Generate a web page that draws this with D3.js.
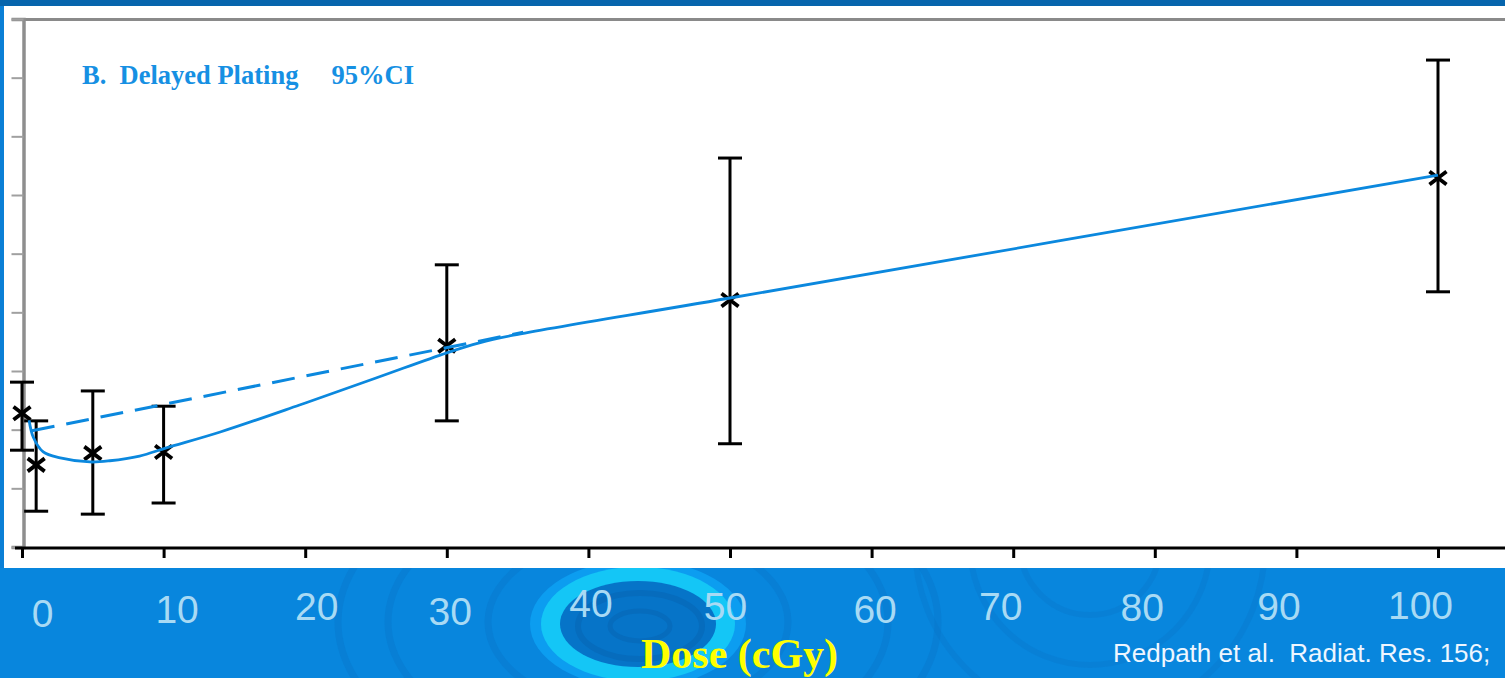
<!DOCTYPE html>
<html>
<head>
<meta charset="utf-8">
<script src="https://cdn.jsdelivr.net/npm/d3@7"></script>
<style>
  html, body { margin: 0; padding: 0; background: #0886dd; overflow: hidden; }
  svg { display: block; }
</style>
</head>
<body>
<svg id="chart" width="1505" height="678"></svg>
<script>
// Neoplastic transformation vs. dose, delayed plating, with 95% confidence intervals
const doses  = [0, 1, 5, 10, 30, 50, 100];
const means  = [2.28, 1.40, 1.60, 1.62, 3.43, 4.21, 6.29];
const ciLow  = [1.65, 0.61, 0.56, 0.75, 2.15, 1.76, 4.35];
const ciHigh = [2.81, 2.15, 2.66, 2.40, 4.81, 6.63, 8.30];

// Fitted dose-response curve (solid)
const fitDose  = [0.5, 0.8, 1.5, 2.7, 4.8, 6.2, 8.3, 10.2, 14, 19.6, 25.0, 30.0, 32.3, 34.7, 49.9, 100];
const fitValue = [2.16, 1.87, 1.62, 1.52, 1.45, 1.47, 1.55, 1.69, 1.96, 2.42, 2.88, 3.31, 3.48, 3.61, 4.24, 6.34];

// Linear extrapolation of the low-dose region (dashed)
const linDose  = [0.7, 35.4];
const linValue = [1.98, 3.66];

const xTickValues = [0, 10, 20, 30, 40, 50, 60, 70, 80, 90, 100];
const yTickValues = [0, 1, 2, 3, 4, 5, 6, 7, 8, 9];

// Hand-placed label offsets (dx, baseline) of the slide's dose labels
const labelShift = [[20, 627], [13, 623], [11, 620], [3, 625], [2, 617], [-5, 620],
                    [3, 623], [-13, 620], [-13, 621], [-18, 620], [-18, 619]];

const svg = d3.select("#chart");
const W = 1505, H = 678;

const x = d3.scaleLinear().domain([0, 100]).range([22, 1438]);
const y = d3.scaleLinear().domain([0, 9]).range([547, 19]);

// ---- slide background -------------------------------------------------
svg.append("rect").attr("width", W).attr("height", H).attr("fill", "#0886dd");

const deco = svg.append("g");
// faint background swirls
[[638, 622, 300, 170], [638, 622, 250, 140], [638, 622, 150, 90]].forEach(([cx, cy, rx, ry]) => {
  deco.append("ellipse").attr("cx", cx).attr("cy", cy).attr("rx", rx).attr("ry", ry)
    .attr("fill", "none").attr("stroke", "#0a74c6").attr("stroke-width", 7).attr("opacity", 0.35);
});
[[1090, 545, 70], [1090, 545, 120], [1090, 545, 175]].forEach(([cx, cy, r]) => {
  deco.append("circle").attr("cx", cx).attr("cy", cy).attr("r", r)
    .attr("fill", "none").attr("stroke", "#0a74c6").attr("stroke-width", 6).attr("opacity", 0.3);
});
// bright ring
deco.append("ellipse").attr("cx", 638).attr("cy", 624).attr("rx", 108).attr("ry", 64).attr("fill", "#0c9df0");
deco.append("ellipse").attr("cx", 638).attr("cy", 624).attr("rx", 97).attr("ry", 57).attr("fill", "#14c6f6");
deco.append("ellipse").attr("cx", 638).attr("cy", 624).attr("rx", 78).attr("ry", 43).attr("fill", "#0674c8");
deco.append("ellipse").attr("cx", 640).attr("cy", 626).attr("rx", 62).attr("ry", 33).attr("fill", "none")
  .attr("stroke", "#066cbd").attr("stroke-width", 6);
deco.append("ellipse").attr("cx", 640).attr("cy", 626).attr("rx", 30).attr("ry", 15).attr("fill", "none")
  .attr("stroke", "#066cbd").attr("stroke-width", 5);

// white chart panel and frame strips
svg.append("rect").attr("x", 4).attr("y", 6).attr("width", W - 4).attr("height", 562).attr("fill", "#ffffff");
svg.append("rect").attr("x", 0).attr("y", 0).attr("width", W).attr("height", 6).attr("fill", "#0665ad");
svg.append("rect").attr("x", 0).attr("y", 6).attr("width", 4).attr("height", 562).attr("fill", "#0a7fd6");

// ---- chart frame ------------------------------------------------------
// grey top border
svg.append("line").attr("x1", 12).attr("x2", W).attr("y1", 19.5).attr("y2", 19.5)
  .attr("stroke", "#8a8a8a").attr("stroke-width", 3);

// grey y axis, unlabelled
const yAxis = svg.append("g").attr("transform", "translate(23.5,0)")
  .call(d3.axisLeft(y).tickValues(yTickValues).tickSize(12).tickFormat(""));
yAxis.select(".domain").attr("stroke", "#8e8e8e").attr("stroke-width", 3.5);
yAxis.selectAll(".tick line").attr("stroke", "#a0a0a0").attr("stroke-width", 2);

// black x axis
const xAxis = svg.append("g").attr("transform", "translate(0,548)")
  .call(d3.axisBottom(x).tickValues(xTickValues).tickSize(10).tickSizeOuter(0).tickFormat(d3.format("d")));
xAxis.select(".domain").attr("d", `M15,0H${W}`).attr("stroke", "#000").attr("stroke-width", 3);
xAxis.selectAll(".tick line").attr("stroke", "#000").attr("stroke-width", 3);
xAxis.selectAll(".tick text")
  .attr("fill", "#a8daf4")
  .attr("font-family", "'Liberation Sans', Arial, sans-serif")
  .attr("font-size", 39)
  .attr("text-anchor", "middle")
  .attr("dy", null)
  .attr("x", (d, i) => labelShift[i][0])
  .attr("y", (d, i) => labelShift[i][1] - 548);

// ---- data -------------------------------------------------------------
const pts = doses.map((d, i) => ({ d, m: means[i], lo: ciLow[i], hi: ciHigh[i] }));
const capHalf = 12;

const bars = svg.append("g").attr("stroke", "#000").attr("stroke-width", 3).attr("fill", "none");
pts.forEach(p => {
  const cx = x(p.d);
  bars.append("line").attr("x1", cx).attr("x2", cx).attr("y1", y(p.hi)).attr("y2", y(p.lo));
  bars.append("line").attr("x1", cx - capHalf).attr("x2", cx + capHalf).attr("y1", y(p.hi)).attr("y2", y(p.hi));
  bars.append("line").attr("x1", cx - capHalf).attr("x2", cx + capHalf).attr("y1", y(p.lo)).attr("y2", y(p.lo));
});

// cross markers at the means
const mk = svg.append("g").attr("stroke", "#000").attr("stroke-width", 3.8).attr("fill", "none");
pts.forEach(p => {
  const cx = x(p.d), cy = y(p.m), hw = 8.5, hh = 6.5;
  mk.append("path").attr("d", `M${cx - hw},${cy - hh}L${cx + hw},${cy + hh}M${cx - hw},${cy + hh}L${cx + hw},${cy - hh}`);
});

// fitted curve and low-dose linear extrapolation
svg.append("path")
  .datum(linDose.map((d, i) => [d, linValue[i]]))
  .attr("d", d3.line().x(p => x(p[0])).y(p => y(p[1])))
  .attr("fill", "none").attr("stroke", "#0b88de").attr("stroke-width", 3)
  .attr("stroke-dasharray", "23,12");

svg.append("path")
  .datum(fitDose.map((d, i) => [d, fitValue[i]]))
  .attr("d", d3.line().x(p => x(p[0])).y(p => y(p[1])).curve(d3.curveCatmullRom.alpha(0.5)))
  .attr("fill", "none").attr("stroke", "#0b88de").attr("stroke-width", 2.8);

// ---- text -------------------------------------------------------------
svg.append("text").attr("x", 82).attr("y", 84)
  .attr("font-family", "'Liberation Serif', 'Times New Roman', serif")
  .attr("font-weight", "bold").attr("font-size", 26.5).attr("fill", "#1690e3")
  .attr("xml:space", "preserve")
  .text("B.  Delayed Plating     95%CI");

svg.append("text").attr("x", 641).attr("y", 668)
  .attr("font-family", "'Liberation Serif', 'Times New Roman', serif")
  .attr("font-weight", "bold").attr("font-size", 42).attr("fill", "#ffff00")
  .text("Dose (cGy)");

svg.append("text").attr("x", 1113).attr("y", 662)
  .attr("font-family", "'Liberation Sans', Arial, sans-serif")
  .attr("font-size", 26).attr("fill", "#eef6ff")
  .attr("xml:space", "preserve")
  .text("Redpath et al.  Radiat. Res. 156;");
</script>
</body>
</html>
